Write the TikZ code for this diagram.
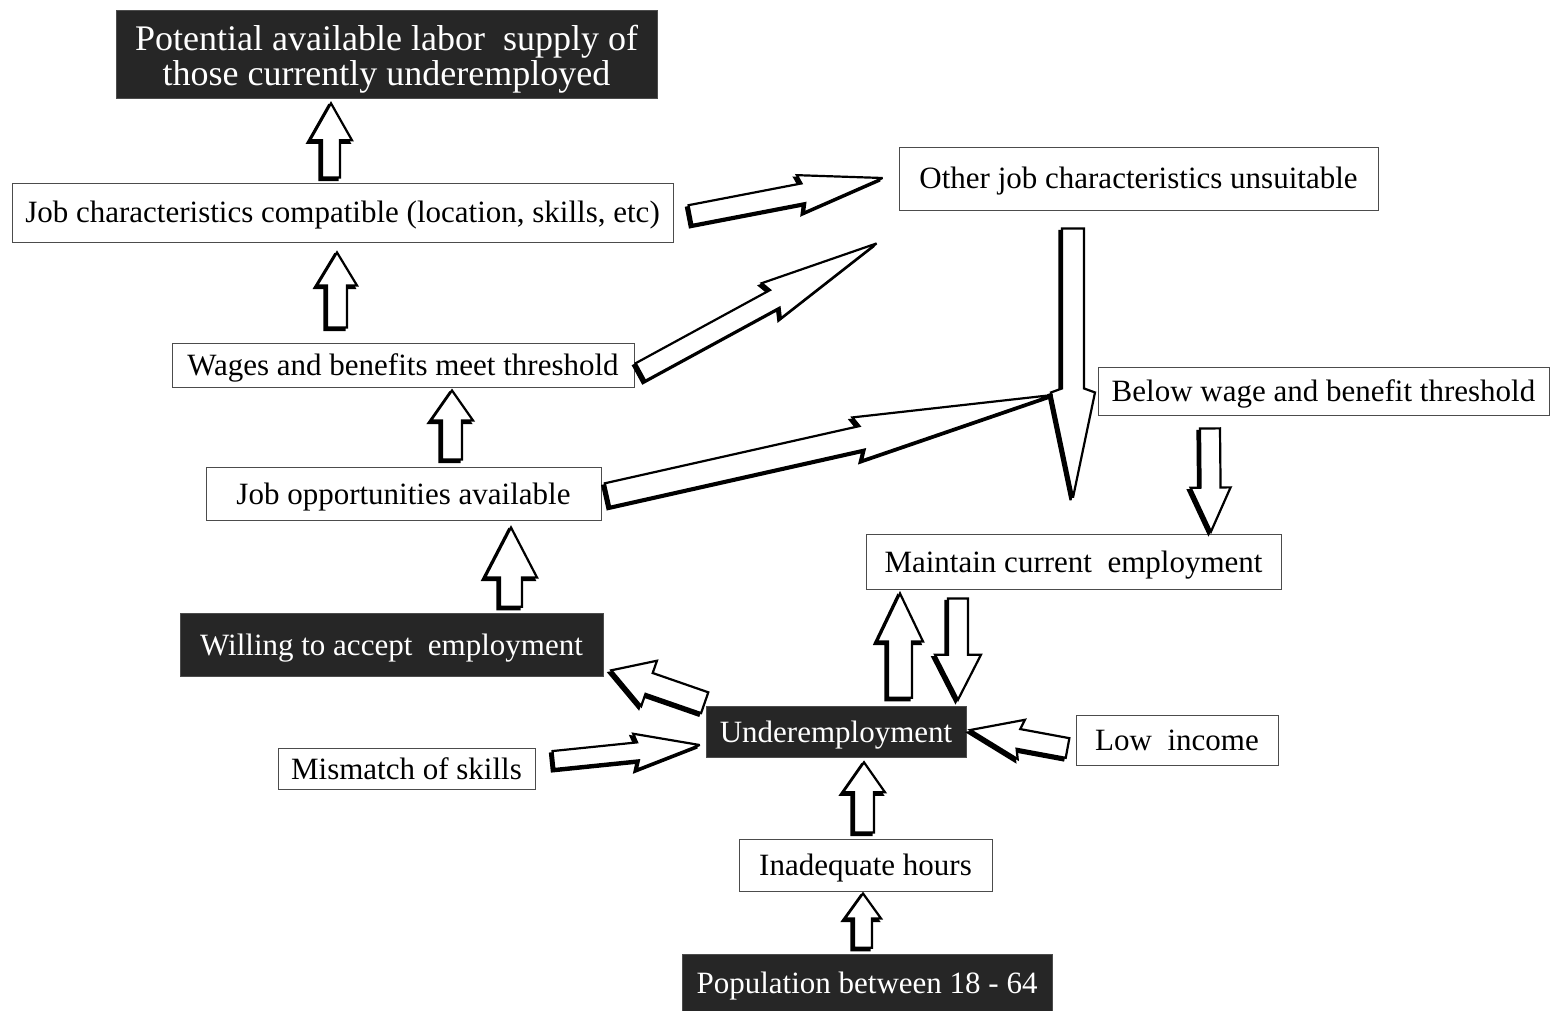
\documentclass[tikz,border=0pt]{standalone}
\usepackage{fontspec}
\setmainfont{Liberation Serif}
\usetikzlibrary{calc}

\tikzset{
  lightbox/.style={draw=black!70, line width=0.9pt, fill=white, inner sep=0pt,
    font=\fontsize{31}{36}\selectfont, text height=25pt, text depth=4pt},
  darkbox/.style={fill=black!85, draw=black!70, line width=0.6pt, inner sep=0pt,
    text=white, font=\fontsize{31}{36}\selectfont, text height=25pt, text depth=4pt},
  arrbody/.style={draw=black, line width=2.2pt, fill=white, line join=miter, miter limit=3},
  arrshadow/.style={draw=black, line width=2.2pt, fill=black, line join=miter, miter limit=3,
    transform canvas={shift={(-2.5pt,-2.5pt)}}},
}

% plain block arrow: tail, tip, shaft half width, head half width, head length
\newcommand\blockarrow[5]{%
  \foreach \sty in {arrshadow,arrbody}{%
    \path[\sty] ($(#1)!#3!90:(#2)$) -- ($(#2)!#5!(#1)!#3!-90:(#1)$)
      -- ($(#2)!#5!(#1)!#4!-90:(#1)$) -- (#2)
      -- ($(#2)!#5!(#1)!#4!90:(#1)$) -- ($(#2)!#5!(#1)!#3!90:(#1)$)
      -- ($(#1)!#3!-90:(#2)$) -- cycle;
  }%
}

% notched arrow: tail, tip, shaft half width, head half width, notch distance, head start
\newcommand\boltarrow[6]{%
  \foreach \sty in {arrshadow,arrbody}{%
    \path[\sty] ($(#1)!#3!90:(#2)$) -- ($(#1)!#5!(#2)!#3!90:(#2)$)
      -- ($(#1)!#6!(#2)!#4!90:(#2)$) -- (#2)
      -- ($(#1)!#6!(#2)!#4!-90:(#2)$) -- ($(#1)!#5!(#2)!#3!-90:(#2)$)
      -- ($(#1)!#3!-90:(#2)$) -- cycle;
  }%
}

\begin{document}
\begin{tikzpicture}[x=1pt,y=-1pt]
\useasboundingbox[fill=white] (0,0) rectangle (1551,1011);

% boxes
\node[darkbox, minimum width=541pt, minimum height=88pt, align=center,
      text height=, text depth=, font=\fontsize{36}{35}\selectfont] (pot) at (386.5,54)
  {\rule{0pt}{35pt}Potential available labor\ \ supply of\\those currently underemployed};
\node[lightbox, minimum width=661pt, minimum height=59pt] (jobchar) at (342.5,212.5)
  {Job characteristics compatible (location, skills, etc)};
\node[lightbox, minimum width=479pt, minimum height=63pt] (other) at (1138.5,178.5)
  {Other job characteristics unsuitable};
\node[lightbox, minimum width=462pt, minimum height=44pt] (wages) at (403,365)
  {Wages and benefits meet threshold};
\node[lightbox, minimum width=451pt, minimum height=48pt] (below) at (1323.5,391)
  {Below wage and benefit threshold};
\node[lightbox, minimum width=395pt, minimum height=53pt] (jobopp) at (403.5,493.5)
  {Job opportunities available};
\node[lightbox, minimum width=415pt, minimum height=55pt] (maintain) at (1073.5,561.5)
  {Maintain current\ \ employment};
\node[darkbox, minimum width=423pt, minimum height=63pt] (willing) at (391.5,644.5)
  {Willing to accept\ \ employment};
\node[darkbox, minimum width=260pt, minimum height=51pt] (under) at (836,731.5)
  {Underemployment};
\node[lightbox, minimum width=202pt, minimum height=50pt] (low) at (1177,740)
  {Low\ \ income};
\node[lightbox, minimum width=257pt, minimum height=41pt] (mismatch) at (406.5,768.5)
  {Mismatch of skills};
\node[lightbox, minimum width=253pt, minimum height=52pt] (inadequate) at (865.5,865)
  {Inadequate hours};
\node[darkbox, minimum width=370pt, minimum height=57pt] (pop) at (867,982.5)
  {Population between 18 - 64};

% arrow ends
\coordinate (a1s) at ($(jobchar.north)+(-11.5,-5)$);
\coordinate (a1e) at ($(pot.south)+(-55.5,5)$);
\coordinate (a2s) at ($(wages.north)+(-66,-15)$);
\coordinate (a2e) at ($(jobchar.south)+(-5.5,10)$);
\coordinate (a3s) at ($(jobopp.north)+(48.5,-7)$);
\coordinate (a3e) at ($(wages.south)+(49,3)$);
\coordinate (a4s) at ($(willing.north)+(119.5,-6)$);
\coordinate (a4e) at ($(jobopp.south)+(107.5,7)$);
\coordinate (a5s) at ($(under.north)+(64,-8)$);
\coordinate (a5e) at ($(maintain.south)+(-173.5,4)$);
\coordinate (a6s) at ($(maintain.south)+(-115.5,9)$);
\coordinate (a6e) at ($(under.north)+(122,-6)$);
\coordinate (a7s) at ($(inadequate.north)+(-1.5,-6)$);
\coordinate (a7e) at ($(under.south)+(28,5)$);
\coordinate (a8s) at ($(pop.north)+(-4,-6)$);
\coordinate (a8e) at ($(inadequate.south)+(-2.5,2)$);
\coordinate (a9s) at ($(below.south)+(-113.5,13)$);
\coordinate (a9e) at ($(maintain.north)+(137.5,-2)$);
\coordinate (a10s) at ($(other.south)+(-65.5,18)$);
\coordinate (a10e) at ($(maintain.north)+(-0.5,-36)$);
\coordinate (d1s) at ($(jobchar.east)+(17,2.5)$);
\coordinate (d1e) at ($(other.west)+(-16,-0.5)$);
\coordinate (d2s) at ($(wages.east)+(6,7)$);
\coordinate (d2e) at ($(other.south west)+(-22,33)$);
\coordinate (d3s) at ($(jobopp.east)+(6,1.5)$);
\coordinate (d3e) at ($(below.west)+(-45,4)$);
\coordinate (d4s) at ($(under.north west)+(-1,-3)$);
\coordinate (d4e) at ($(willing.south east)+(8,-6)$);
\coordinate (d5s) at ($(mismatch.east)+(18,-8.5)$);
\coordinate (d5e) at ($(under.west)+(-6,13.5)$);
\coordinate (d6s) at ($(low.west)+(-8,8)$);
\coordinate (d6e) at ($(under.east)+(4,-1.5)$);

% straight block arrows
\blockarrow{a1s}{a1e}{9pt}{21pt}{37pt}
\blockarrow{a2s}{a2e}{10pt}{20pt}{33pt}
\blockarrow{a3s}{a3e}{10pt}{21pt}{30pt}
\blockarrow{a4s}{a4e}{11pt}{26pt}{50pt}
\blockarrow{a5s}{a5e}{12pt}{23pt}{48pt}
\blockarrow{a6s}{a6e}{10pt}{23pt}{45pt}
\blockarrow{a7s}{a7e}{10pt}{21pt}{30pt}
\blockarrow{a8s}{a8e}{9pt}{18pt}{25pt}
\blockarrow{a9s}{a9e}{10pt}{20pt}{44pt}
\blockarrow{d4s}{d4e}{11pt}{24pt}{40pt}

% notched arrows
\boltarrow{a10s}{a10e}{11pt}{22pt}{160pt}{164pt}
\boltarrow{d1s}{d1e}{10pt}{19pt}{115pt}{112pt}
\boltarrow{d2s}{d2e}{10pt}{20pt}{153pt}{149pt}
\boltarrow{d3s}{d3e}{12pt}{22pt}{261pt}{256pt}
\boltarrow{d5s}{d5e}{9pt}{18pt}{85pt}{82pt}
\boltarrow{d6s}{d6e}{10pt}{20pt}{50pt}{47pt}
\end{tikzpicture}
\end{document}
